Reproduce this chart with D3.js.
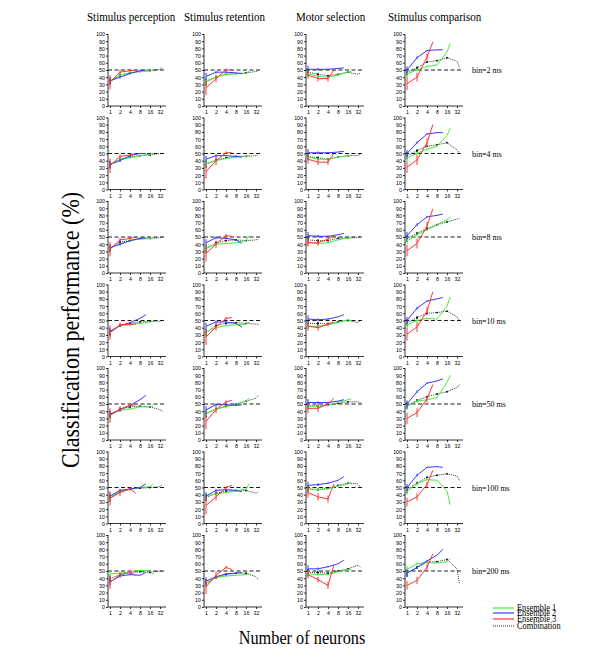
<!DOCTYPE html>
<meta charset="utf-8">
<style>
body { margin: 0; background: #fff; }
svg { font-family: "Liberation Serif", "Times New Roman", serif; }
.axis text { font-size: 6px; fill: #000; }
.axis line, .axis path { stroke: #000; stroke-width: 0.8; }
</style>
<svg id="chart" width="600" height="667"></svg>
<script src="https://cdn.jsdelivr.net/npm/d3@7"></script>
<script>

// Categories
var columns = ["Stimulus perception", "Stimulus retention", "Motor selection", "Stimulus comparison"];
var bins = ["bin=2 ms", "bin=4 ms", "bin=8 ms", "bin=10 ms", "bin=50 ms", "bin=100 ms", "bin=200 ms"];
var xTicks = [1, 2, 4, 8, 16, 32];
var yTicks = [0, 10, 20, 30, 40, 50, 60, 70, 80, 90, 100];
var chance = 50;

// number of neurons used for each curve
var nGreen = [1, 2, 4, 8, 16, 20];
var nBlue = [1, 2, 4, 8, 12];
var nRed = [1, 2, 4, 6];
var nComb = [1, 2, 4, 8, 16, 32, 38];

// performance (%) per [row][column]
var green = [
  [[35,43,46,48,49,50], [35,40,44,45,45,49], [45,41,40,43,47,48], [45,50,55,57,75,87]],
  [[35,42,44,47,49,50], [36,40,43,45,46,47], [45,42,42,45,47,48], [44,50,56,60,75,85]],
  [[35,40,45,47,48,49], [35,40,41,42,45,52], [42,41,42,46,49,49], [45,53,60,67,74,78]],
  [[34,43,44,46,48,49], [34,40,43,44,45,48], [42,42,44,47,51,50], [44,50,53,52,70,83]],
  [[35,41,43,46,46,48], [37,43,46,50,54,58], [47,47,48,52,56,57], [47,54,56,59,80,90]],
  [[37,45,47,50,51,55], [38,41,43,45,48,55], [48,47,48,52,55,57], [45,55,61,60,45,26]],
  [[46,47,49,51,50,45], [32,41,43,44,45,46], [46,45,45,49,52,52], [52,60,62,61,63,67]]
];
var blue = [
  [[35,40,45,49,50], [41,47,47,46,45], [51,51,51,52,53], [50,67,77,78,78]],
  [[35,40,47,50,50], [42,47,47,46,45], [51,51,51,52,53], [50,65,77,79,79]],
  [[35,40,45,48,49], [42,49,48,46,41], [52,51,51,53,55], [52,67,78,80,82]],
  [[35,43,47,53,58], [42,48,48,46,41], [52,51,52,55,58], [50,67,77,80,82]],
  [[36,42,48,56,62], [42,49,49,48,49], [52,52,52,54,56], [50,67,79,82,85]],
  [[38,46,48,50,55], [38,46,47,46,44], [53,54,56,60,65], [50,67,78,79,78]],
  [[35,43,45,44,48], [36,42,46,47,48], [53,53,56,60,65], [47,55,64,72,80]]
];
var red = [
  [[33,47,49,50], [25,38,50,50], [43,38,38,50], [31,40,68,89]],
  [[33,46,48,50], [25,40,51,51], [42,38,38,50], [31,41,65,90]],
  [[33,46,48,50], [27,40,52,51], [42,42,47,52], [31,41,65,89]],
  [[33,44,45,45], [27,41,53,54], [42,40,45,48], [31,41,63,90]],
  [[34,43,48,49], [26,42,53,55], [44,44,50,58], [30,38,57,77]],
  [[35,43,48,42], [25,37,50,53], [43,37,34,55], [30,37,54,74]],
  [[34,45,48,44], [28,44,55,52], [45,38,30,58], [30,37,55,74]]
];
// half-width of red error bars at 1, 2, 4 neurons
var redErr = [
  [[10,3,2], [10,5,2], [5,4,4], [9,6,5]],
  [[10,3,2], [10,6,2], [6,4,4], [8,7,6]],
  [[10,3,2], [11,5,2], [5,4,3], [8,7,6]],
  [[10,3,2], [11,5,2], [6,4,3], [9,7,6]],
  [[10,4,2], [11,5,2], [7,5,3], [8,6,5]],
  [[10,5,2], [12,5,2], [7,5,5], [6,5,4]],
  [[9,3,2], [10,5,2], [5,4,5], [6,5,4]]
];
var comb = [
  [[34,43,46,48,49,51,53], [33,40,44,45,46,48,49], [47,44,42,44,47,44,46], [47,53,61,63,67,62,53]],
  [[34,42,45,47,48,50,50], [35,41,44,46,46,47,48], [46,44,42,45,47,47,49], [47,54,60,62,65,55,50]],
  [[34,43,45,48,48,49,50], [33,42,45,46,45,46,47], [46,45,45,48,49,49,52], [48,55,62,67,71,75,76]],
  [[33,43,46,48,49,49,50], [33,43,46,47,46,45,45], [46,46,45,48,50,47,50], [47,54,60,61,63,55,50]],
  [[35,43,46,47,46,42,40], [36,43,47,50,54,58,62], [48,47,49,51,53,53,52], [48,55,60,64,67,73,77]],
  [[35,45,48,49,50,51,55], [36,42,45,46,46,42,44], [48,47,49,53,56,55,50], [47,56,64,67,69,66,60]],
  [[39,45,48,49,48,50,49], [34,41,45,47,47,42,38], [48,48,47,50,53,58,55], [47,55,62,63,66,53,32]]
];
// half-width of the small error bars on the other curves at 1, 2, 4 neurons
var smallErr = [5, 2, 1];

var legendNames = ["Ensemble 1", "Ensemble 2", "Ensemble 3", "Combination"];

// layout
var colLeft = [108, 204, 306, 405];
var titleX = [87, 184, 296, 388];
var rowTop0 = 34, rowStep = 83.5, plotH = 72;
var squeeze = 0.88;   // the figure is slightly narrowed horizontally
var colors = { green: "#3ef03e", blue: "#3838ff", red: "#ff3434", comb: "#000" };

var svg = d3.select("#chart");

// narrow a text element along its reading direction
function narrow(sel) {
  sel.each(function() {
    var w = this.getComputedTextLength();
    d3.select(this).attr("textLength", w * squeeze).attr("lengthAdjust", "spacingAndGlyphs");
  });
}

columns.forEach(function(t, c) {
  svg.append("text")
    .attr("x", titleX[c]).attr("y", 21)
    .style("font-size", "12.5px")
    .text(t)
    .call(narrow);
});

bins.forEach(function(b, r) {
  var top = rowTop0 + r * rowStep;
  var y = d3.scaleLinear().domain([0, 100]).range([top + plotH, top]);

  columns.forEach(function(t, c) {
    var left = colLeft[c];
    var x = d3.scaleLog().base(2).domain([1, 32]).range([left + 2, left + 52]);
    var g = svg.append("g");

    // axes
    g.append("g").attr("class", "axis")
      .attr("transform", "translate(" + left + ",0)")
      .call(d3.axisLeft(y).tickValues(yTicks).tickSize(2).tickPadding(1))
      .call(function(a) { a.select(".domain").remove(); a.selectAll("text").call(narrow); });
    g.append("line").attr("x1", left).attr("x2", left)
      .attr("y1", y(0)).attr("y2", y(100)).attr("stroke", "#000").attr("stroke-width", 0.8);
    g.append("g").attr("class", "axis")
      .attr("transform", "translate(0," + y(0) + ")")
      .call(d3.axisBottom(x).tickValues(xTicks).tickFormat(d3.format("d")).tickSize(2).tickPadding(2))
      .call(function(a) { a.select(".domain").remove(); a.selectAll("text").call(narrow); });
    g.append("line").attr("x1", left).attr("x2", left + 58)
      .attr("y1", y(0)).attr("y2", y(0)).attr("stroke", "#000").attr("stroke-width", 0.8);

    // chance level
    g.append("line").attr("x1", left).attr("x2", left + 58)
      .attr("y1", y(chance)).attr("y2", y(chance))
      .attr("stroke", "#000").attr("stroke-width", 0.9).attr("stroke-dasharray", "4,2.5");

    var series = [
      { n: nComb, v: comb[r][c], col: colors.comb, err: smallErr, dash: "1,1" },
      { n: nGreen, v: green[r][c], col: colors.green, err: smallErr },
      { n: nBlue, v: blue[r][c], col: colors.blue, err: smallErr },
      { n: nRed, v: red[r][c], col: colors.red, err: redErr[r][c] }
    ];

    var line = d3.line().x(function(d) { return x(d[0]); }).y(function(d) { return y(d[1]); });

    series.forEach(function(s) {
      var pts = s.n.map(function(n, i) { return [n, s.v[i]]; });
      g.append("path").datum(pts)
        .attr("d", line)
        .attr("fill", "none")
        .attr("stroke", s.col)
        .attr("stroke-width", s.dash ? 0.8 : 1)
        .attr("stroke-dasharray", s.dash || null);
      g.selectAll(null).data(pts.slice(0, s.err.length)).enter().append("line")
        .attr("x1", function(d) { return x(d[0]); })
        .attr("x2", function(d) { return x(d[0]); })
        .attr("y1", function(d, i) { return y(d[1] - s.err[i]); })
        .attr("y2", function(d, i) { return y(d[1] + s.err[i]); })
        .attr("stroke", s.col).attr("stroke-width", 1);
      if (s.dash) {
        g.selectAll(null).data(pts.slice(1, 5)).enter().append("circle")
          .attr("cx", function(d) { return x(d[0]); })
          .attr("cy", function(d) { return y(d[1]); })
          .attr("r", 0.9).attr("fill", "#000");
      }
    });

    if (c === 3) {
      svg.append("text")
        .attr("x", 472).attr("y", y(chance) + 3)
        .style("font-size", "9px")
        .text(b)
        .call(narrow);
    }
  });
});

// axis titles
svg.append("text")
  .attr("transform", "translate(79,330) rotate(-90)")
  .attr("text-anchor", "middle")
  .style("font-size", "25px")
  .text("Classification performance (%)")
  .call(narrow);

svg.append("text")
  .attr("x", 302).attr("y", 644)
  .attr("text-anchor", "middle")
  .style("font-size", "18.5px")
  .text("Number of neurons")
  .call(narrow);

// legend
var legendY = [608, 613, 619, 626];
var legendCol = [colors.green, colors.blue, colors.red, colors.comb];
legendNames.forEach(function(name, i) {
  svg.append("line")
    .attr("x1", 493).attr("x2", 514)
    .attr("y1", legendY[i]).attr("y2", legendY[i])
    .attr("stroke", legendCol[i]).attr("stroke-width", i === 3 ? 0.8 : 1.2)
    .attr("stroke-dasharray", i === 3 ? "1,1" : null);
  svg.append("text")
    .attr("x", 517).attr("y", legendY[i] + 3)
    .style("font-size", "9.5px")
    .text(name)
    .call(narrow);
});
</script>
